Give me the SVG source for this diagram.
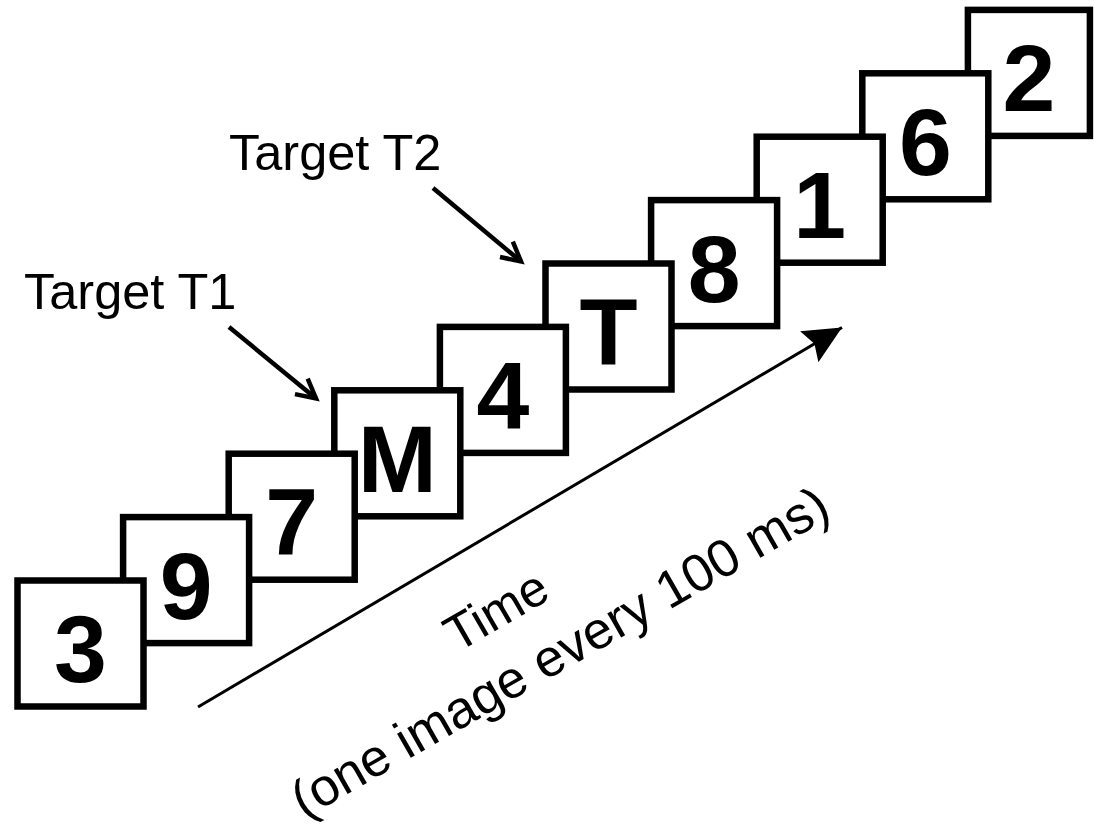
<svg xmlns="http://www.w3.org/2000/svg" width="1094" height="832" viewBox="0 0 1094 832">
  <defs>
    <style>
      .box rect { fill: #ffffff; stroke: #000000; stroke-width: 6.5; }
      .box text { font-family: "Liberation Sans", Arial, sans-serif; font-weight: bold; font-size: 95px; text-anchor: middle; fill: #000000; }
      .label { font-family: "Liberation Sans", Arial, sans-serif; font-size: 50.5px; fill: #000000; }
      .pointer { stroke: #000000; stroke-width: 4.5; fill: none; }
      .timeline { stroke: #000000; stroke-width: 3; fill: none; }
    </style>
    <marker id="openHead" markerUnits="userSpaceOnUse" viewBox="-24 -14 28 28" refX="0" refY="0" markerWidth="28" markerHeight="28" orient="auto" overflow="visible">
      <path d="M-19,-10 L0,0 L-19,10" fill="none" stroke="#000000" stroke-width="4.5" stroke-linejoin="miter"/>
    </marker>
    <marker id="solidHead" markerUnits="userSpaceOnUse" viewBox="-40 -20 44 40" refX="0" refY="0" markerWidth="44" markerHeight="40" orient="auto" overflow="visible">
      <path d="M0,0 L-38,-18 L-32,0 L-38,18 Z" fill="#000000"/>
    </marker>
  </defs>
  <rect x="0" y="0" width="1094" height="832" fill="#ffffff"/>

  <!-- boxes: later boxes drawn first so earlier ones overlap them -->
  <g id="box-2" class="box"><rect x="967.9" y="9.9" width="122" height="126"/><text x="1029" y="111.4">2</text></g>
  <g id="box-6" class="box"><rect x="862.3" y="73.3" width="126" height="126"/><text x="925.3" y="174.8">6</text></g>
  <g id="box-1" class="box"><rect x="756.7" y="136.7" width="126" height="126"/><text x="819.7" y="238.2">1</text></g>
  <g id="box-8" class="box"><rect x="651.1" y="200.1" width="126" height="126"/><text x="714.1" y="301.6">8</text></g>
  <g id="box-T" class="box"><rect x="545.5" y="263.5" width="126" height="126"/><text x="608.5" y="365">T</text></g>
  <g id="box-4" class="box"><rect x="439.9" y="326.9" width="126" height="126"/><text x="502.9" y="428.4">4</text></g>
  <g id="box-M" class="box"><rect x="334.3" y="390.3" width="126" height="126"/><text x="397.3" y="491.8">M</text></g>
  <g id="box-7" class="box"><rect x="228.7" y="453.7" width="126" height="126"/><text x="291.7" y="555.2">7</text></g>
  <g id="box-9" class="box"><rect x="123.1" y="517.1" width="126" height="126"/><text x="186.1" y="618.6">9</text></g>
  <g id="box-3" class="box"><rect x="17.5" y="580.5" width="126" height="126"/><text x="80.5" y="682">3</text></g>

  <!-- labels -->
  <g id="label-t1"><text class="label" x="24" y="309">Target T1</text></g>
  <g id="label-t2"><text class="label" x="229" y="170">Target T2</text></g>
  <g id="label-time">
    <text class="label" style="font-size:50.5px" transform="translate(457,653) rotate(-30)">Time</text>
    <text class="label" style="font-size:52.5px" transform="translate(304,819) rotate(-29.8)">(one image every 100 ms)</text>
  </g>

  <!-- connectors -->
  <g id="connectors">
    <line class="pointer" x1="229" y1="327" x2="316" y2="398.5" marker-end="url(#openHead)"/>
    <line class="pointer" x1="433" y1="188" x2="521" y2="261.5" marker-end="url(#openHead)"/>
    <line class="timeline" x1="198" y1="707" x2="842" y2="327.5" marker-end="url(#solidHead)"/>
  </g>
</svg>
